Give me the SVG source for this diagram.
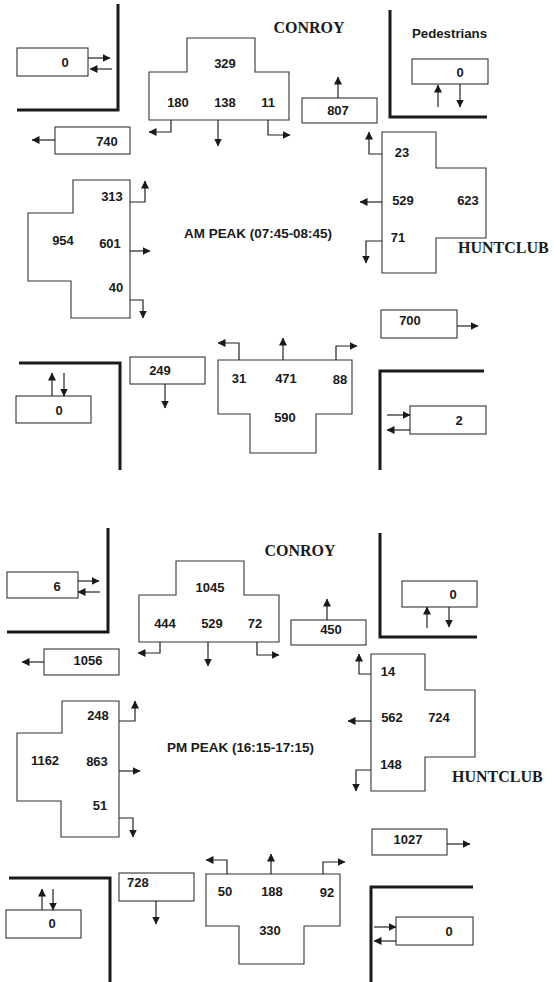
<svg xmlns="http://www.w3.org/2000/svg" width="554" height="982" viewBox="0 0 554 982">
<defs>
<marker id="ah" markerUnits="userSpaceOnUse" markerWidth="8" markerHeight="8" viewBox="0 0 8 8" refX="7.5" refY="4" orient="auto">
<path d="M0,0 L8,4 L0,8 z" fill="#1a1a1a"/>
</marker>
<style>
.road{fill:none;stroke:#1a1a1a;stroke-width:3}
.box{fill:#fff;stroke:#333;stroke-width:1.1}
.arr{fill:none;stroke:#222;stroke-width:1.2;marker-end:url(#ah)}
.n{font-family:"Liberation Sans",Arial,sans-serif;font-weight:bold;font-size:13px;fill:#1a1a1a;text-anchor:middle}
.l{text-anchor:start}
.st{font-family:"Liberation Serif","Times New Roman",serif;font-weight:bold;font-size:16px;fill:#1a1a1a}
.pk{font-family:"Liberation Sans",Arial,sans-serif;font-weight:bold;font-size:13px;fill:#1a1a1a}
</style>
</defs>
<rect width="554" height="982" fill="#fff"/>

<!-- ===== AM PEAK ===== -->
<g id="am-roads">
<polyline class="road" points="118,4 118,110 17,110"/>
<polyline class="road" points="390,10 390,117 487,117"/>
<polyline class="road" points="19,363 120,363 120,470"/>
<polyline class="road" points="484,371 380,371 380,470"/>
</g>
<g id="am-labels">
<text class="st" x="309" y="33" text-anchor="middle">CONROY</text>
<text class="st" x="458" y="253">HUNTCLUB</text>
<text class="pk" x="184" y="238" textLength="148" lengthAdjust="spacingAndGlyphs">AM PEAK (07:45-08:45)</text>
<text class="pk" x="412" y="38" textLength="75" lengthAdjust="spacingAndGlyphs">Pedestrians</text>
</g>
<g id="am-south">
<path class="box" d="M187,38 H255 V72 H289 V120 H149 V72 H187 Z"/>
<text class="n" x="225" y="68">329</text>
<text class="n" x="178" y="107">180</text>
<text class="n" x="225" y="107">138</text>
<text class="n" x="268" y="107">11</text>
</g>
<g id="am-west">
<path class="box" d="M382,132 H436 V168 H486 V238 H436 V273 H382 Z"/>
<text class="n" x="402" y="157">23</text>
<text class="n" x="403" y="205">529</text>
<text class="n" x="468" y="205">623</text>
<text class="n" x="398" y="242">71</text>
</g>
<g id="am-east">
<path class="box" d="M73,180 H130 V318 H71 V281 H28 V213 H73 Z"/>
<text class="n" x="112" y="201">313</text>
<text class="n" x="63" y="245">954</text>
<text class="n" x="110" y="248">601</text>
<text class="n" x="116" y="292">40</text>
</g>
<g id="am-north">
<path class="box" d="M218,360 H352 V414 H316 V453 H250 V414 H218 Z"/>
<text class="n" x="239" y="383">31</text>
<text class="n" x="286" y="383">471</text>
<text class="n" x="340" y="384">88</text>
<text class="n" x="285" y="422">590</text>
</g>
<g id="am-ped-nw"><rect class="box" x="17" y="48" width="71" height="28"/><text class="n" x="65" y="67">0</text></g>
<g id="am-ped-ne"><rect class="box" x="412" y="59" width="76" height="25"/><text class="n" x="460" y="77">0</text></g>
<g id="am-ped-sw"><rect class="box" x="16" y="396" width="75" height="27"/><text class="n" x="59" y="415">0</text></g>
<g id="am-ped-se"><rect class="box" x="410" y="406" width="76" height="28"/><text class="n" x="459" y="425">2</text></g>
<g id="am-out-w"><rect class="box" x="55" y="127" width="75" height="27"/><text class="n" x="107" y="146">740</text></g>
<g id="am-out-n"><rect class="box" x="302" y="98" width="75" height="25"/><text class="n" x="338" y="115">807</text></g>
<g id="am-out-e"><rect class="box" x="381" y="310" width="76" height="28"/><text class="n" x="410" y="325">700</text></g>
<g id="am-out-s"><rect class="box" x="130" y="357" width="75" height="27"/><text class="n" x="160" y="375">249</text></g>
<g id="am-connectors">
<path class="arr" d="M171,120 V132 H149"/>
<path class="arr" d="M218,120 V146"/>
<path class="arr" d="M268,120 V135 H290"/>
<path class="arr" d="M382,154 H369 V132"/>
<path class="arr" d="M382,202 H360"/>
<path class="arr" d="M382,241 H366 V263"/>
<path class="arr" d="M130,202 H145 V181"/>
<path class="arr" d="M130,251 H150"/>
<path class="arr" d="M130,300 H143 V318"/>
<path class="arr" d="M239,360 V343 H218"/>
<path class="arr" d="M283,360 V338"/>
<path class="arr" d="M336,360 V346 H357"/>
<path class="arr" d="M88,58 H110"/>
<path class="arr" d="M112,69 H90"/>
<path class="arr" d="M438,107 V85"/>
<path class="arr" d="M460,84 V107"/>
<path class="arr" d="M52,396 V373"/>
<path class="arr" d="M64,373 V396"/>
<path class="arr" d="M387,415 H410"/>
<path class="arr" d="M410,430 H387"/>
<path class="arr" d="M55,140 H32"/>
<path class="arr" d="M338,98 V77"/>
<path class="arr" d="M457,326 H478"/>
<path class="arr" d="M165,384 V408"/>
</g>

<!-- ===== PM PEAK ===== -->
<g id="pm-roads">
<polyline class="road" points="108,528 108,632 7,632"/>
<polyline class="road" points="380,533 380,637 477,637"/>
<polyline class="road" points="9,878 110,878 110,982"/>
<polyline class="road" points="473,887 371,887 371,982"/>
</g>
<g id="pm-labels">
<text class="st" x="300" y="556" text-anchor="middle">CONROY</text>
<text class="st" x="452" y="782">HUNTCLUB</text>
<text class="pk" x="167" y="752" textLength="147" lengthAdjust="spacingAndGlyphs">PM PEAK (16:15-17:15)</text>
</g>
<g id="pm-south">
<path class="box" d="M176,561 H244 V595 H279 V642 H139 V595 H176 Z"/>
<text class="n" x="210" y="592">1045</text>
<text class="n" x="165" y="628">444</text>
<text class="n" x="212" y="628">529</text>
<text class="n" x="255" y="628">72</text>
</g>
<g id="pm-west">
<path class="box" d="M371,654 H425 V690 H475 V757 H425 V791 H371 Z"/>
<text class="n" x="388" y="676">14</text>
<text class="n" x="392" y="722">562</text>
<text class="n" x="439" y="722">724</text>
<text class="n" x="391" y="769">148</text>
</g>
<g id="pm-east">
<path class="box" d="M62,701 H119 V837 H61 V801 H17 V733 H62 Z"/>
<text class="n" x="98" y="720">248</text>
<text class="n" x="45" y="765">1162</text>
<text class="n" x="97" y="766">863</text>
<text class="n" x="100" y="810">51</text>
</g>
<g id="pm-north">
<path class="box" d="M206,874 H340 V926 H304 V964 H239 V926 H206 Z"/>
<text class="n" x="225" y="896">50</text>
<text class="n" x="272" y="896">188</text>
<text class="n" x="327" y="897">92</text>
<text class="n" x="270" y="935">330</text>
</g>
<g id="pm-ped-nw"><rect class="box" x="7" y="572" width="71" height="26"/><text class="n" x="57" y="591">6</text></g>
<g id="pm-ped-ne"><rect class="box" x="402" y="581" width="75" height="26"/><text class="n" x="453" y="599">0</text></g>
<g id="pm-ped-sw"><rect class="box" x="6" y="910" width="75" height="28"/><text class="n" x="52" y="928">0</text></g>
<g id="pm-ped-se"><rect class="box" x="396" y="917" width="77" height="28"/><text class="n" x="449" y="936">0</text></g>
<g id="pm-out-w"><rect class="box" x="44" y="649" width="75" height="26"/><text class="n" x="88" y="665">1056</text></g>
<g id="pm-out-n"><rect class="box" x="291" y="620" width="75" height="25"/><text class="n" x="331" y="634">450</text></g>
<g id="pm-out-e"><rect class="box" x="372" y="829" width="75" height="26"/><text class="n" x="408" y="844">1027</text></g>
<g id="pm-out-s"><rect class="box" x="119" y="873" width="75" height="28"/><text class="n l" x="127" y="887">728</text></g>
<g id="pm-connectors">
<path class="arr" d="M160,642 V653 H138"/>
<path class="arr" d="M208,642 V666"/>
<path class="arr" d="M257,642 V655 H279"/>
<path class="arr" d="M371,674 H359 V654"/>
<path class="arr" d="M371,721 H348"/>
<path class="arr" d="M371,770 H356 V791"/>
<path class="arr" d="M119,721 H135 V701"/>
<path class="arr" d="M119,771 H140"/>
<path class="arr" d="M119,818 H133 V837"/>
<path class="arr" d="M227,874 V860 H206"/>
<path class="arr" d="M271,874 V854"/>
<path class="arr" d="M323,874 V862 H345"/>
<path class="arr" d="M78,581 H99"/>
<path class="arr" d="M100,592 H78"/>
<path class="arr" d="M427,628 V607"/>
<path class="arr" d="M449,607 V627"/>
<path class="arr" d="M42,910 V889"/>
<path class="arr" d="M53,889 V910"/>
<path class="arr" d="M374,927 H396"/>
<path class="arr" d="M396,941 H374"/>
<path class="arr" d="M44,662 H22"/>
<path class="arr" d="M327,620 V599"/>
<path class="arr" d="M447,844 H470"/>
<path class="arr" d="M156,901 V924"/>
</g>
</svg>
